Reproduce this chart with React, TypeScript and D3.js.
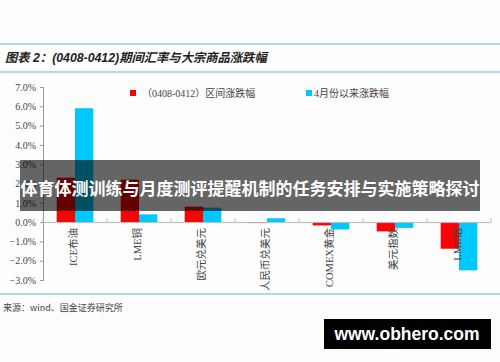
import React, { useEffect, useRef } from 'react';
import * as d3 from 'd3';

const categories = ['ICE布油', 'LME铜', '欧元兑美元', '人民币兑美元', 'COMEX黄金', '美元指数', 'LME铝'];
const seriesNames = ['（0408-0412）区间涨跌幅', '4月份以来涨跌幅'];
const weekChange = [2.3, 2.2, 0.8, -0.05, -0.17, -0.48, -1.38];
const monthChange = [5.9, 0.4, 0.75, 0.2, -0.38, -0.3, -2.5];
const yTicks = [7, 6, 5, 4, 3, 2, 1, 0, -1, -2, -3];
const colors = ['#ff0000', '#00c8fa'];

const titleText = '图表 2：(0408-0412)期间汇率与大宗商品涨跌幅';
const sourceText = '来源：wind、国金证券研究所';
const bannerText = '体育体测训练与月度测评提醒机制的任务安排与实施策略探讨';
const watermarkText = 'www.obhero.com';

const W = 500;
const H = 362;
const serif = '"Liberation Serif", "Noto Sans CJK SC", serif';
const cjk = '"Noto Sans CJK SC", sans-serif';

const App = () => {
    const ref = useRef<SVGSVGElement>(null);

    useEffect(() => {
        const svg = d3.select(ref.current);
        svg.selectAll('*').remove();

        svg.append('rect').attr('width', W).attr('height', H).attr('fill', '#fdfdfd');

        // header lines + title
        const teal = '#8fd3d8';
        [44, 72, 294].forEach(y => {
            svg.append('line')
                .attr('x1', 0).attr('x2', W)
                .attr('y1', y).attr('y2', y)
                .attr('stroke', teal).attr('stroke-width', 1.5);
        });

        svg.append('text')
            .attr('x', 5).attr('y', 62)
            .attr('font-family', '"Liberation Sans", "Noto Sans CJK SC", sans-serif')
            .attr('font-size', 12.3)
            .attr('font-weight', 'bold')
            .attr('font-style', 'italic')
            .attr('fill', '#222')
            .text(titleText);

        const x0 = d3.scaleBand<string>()
            .domain(categories)
            .range([43, 491])
            .paddingInner(0)
            .paddingOuter(0);

        const x1 = d3.scaleBand<string>()
            .domain(seriesNames)
            .range([0, x0.bandwidth()])
            .paddingInner(0)
            .paddingOuter(0.75);

        const y = d3.scaleLinear().domain([-3, 7]).range([280, 87]);

        // y axis
        const yAxis = svg.append('g')
            .attr('transform', 'translate(43,0)')
            .call(d3.axisLeft(y).tickValues(yTicks).tickSize(3).tickPadding(4)
                .tickFormat(d => d3.format('.1f')(d as number) + '%'));
        yAxis.select('.domain').attr('stroke', '#999');
        yAxis.selectAll('.tick line').attr('stroke', '#999');
        yAxis.selectAll('text')
            .attr('font-family', serif)
            .attr('font-size', 10)
            .attr('fill', '#444');

        // bars
        const rows = categories.map((c, i) => ({ cat: c, vals: [weekChange[i], monthChange[i]] }));
        const groups = svg.selectAll('.grp')
            .data(rows)
            .enter()
            .append('g')
            .attr('transform', d => `translate(${x0(d.cat)},0)`);

        groups.selectAll('rect')
            .data(d => d.vals.map((v, j) => ({ name: seriesNames[j], v, j })))
            .enter()
            .append('rect')
            .attr('x', d => x1(d.name)!)
            .attr('width', x1.bandwidth())
            .attr('y', d => y(Math.max(0, d.v)))
            .attr('height', d => Math.abs(y(d.v) - y(0)))
            .attr('fill', d => colors[d.j]);

        // x axis at zero
        const xAxis = svg.append('g')
            .attr('transform', `translate(0,${y(0)})`)
            .call(d3.axisBottom(x0).tickSize(0).tickFormat(() => ''));
        xAxis.select('.domain').attr('stroke', '#bbb');
        categories.concat(['end']).forEach((c, i) => {
            const xx = 43 + i * x0.bandwidth();
            svg.append('line')
                .attr('x1', xx).attr('x2', xx)
                .attr('y1', y(0) - 4).attr('y2', y(0))
                .attr('stroke', '#bbb');
        });

        // category labels, rotated
        svg.selectAll('.cat')
            .data(categories)
            .enter()
            .append('text')
            .attr('transform', d => `translate(${x0(d)! + x0.bandwidth() / 2 - 2},${y(0) + 6}) rotate(-90)`)
            .attr('text-anchor', 'end')
            .attr('dominant-baseline', 'central')
            .attr('font-family', serif)
            .attr('font-size', 10.5)
            .attr('fill', '#444')
            .text(d => d);

        // legend
        const legendX = [130, 306];
        seriesNames.forEach((s, i) => {
            svg.append('rect')
                .attr('x', legendX[i]).attr('y', 90)
                .attr('width', 6).attr('height', 6)
                .attr('fill', colors[i]);
            svg.append('text')
                .attr('x', legendX[i] + (i === 0 ? 12 : 8)).attr('y', 93)
                .attr('dominant-baseline', 'central')
                .attr('font-family', serif)
                .attr('font-size', 10)
                .attr('fill', '#444')
                .text(s);
        });

        // source
        svg.append('text')
            .attr('x', 3).attr('y', 307)
            .attr('dominant-baseline', 'central')
            .attr('font-family', cjk)
            .attr('font-size', 9)
            .attr('fill', '#444')
            .text(sourceText);

        // overlay banner (sits over the chart like the reference's caption strip)
        svg.append('rect')
            .attr('x', 20).attr('y', 160)
            .attr('width', 460).attr('height', 51)
            .attr('fill', 'rgba(0,0,0,0.6)');
        svg.append('text')
            .attr('x', 250).attr('y', 187)
            .attr('text-anchor', 'middle')
            .attr('dominant-baseline', 'central')
            .attr('font-family', cjk)
            .attr('font-size', 17)
            .attr('font-weight', 'bold')
            .attr('fill', '#fff')
            .text(bannerText);

        // watermark
        svg.append('rect')
            .attr('x', 324).attr('y', 319)
            .attr('width', 167).attr('height', 30)
            .attr('fill', '#000');
        svg.append('text')
            .attr('x', 407).attr('y', 334)
            .attr('text-anchor', 'middle')
            .attr('dominant-baseline', 'central')
            .attr('font-family', '"Liberation Sans", Arial, sans-serif')
            .attr('font-size', 17.5)
            .attr('font-weight', 'bold')
            .attr('fill', '#fff')
            .text(watermarkText);
    }, []);

    return (
        <svg ref={ref} width={W} height={H}
            style={{ position: 'absolute', left: 0, top: 0, display: 'block' }} />
    );
};

export default App;
